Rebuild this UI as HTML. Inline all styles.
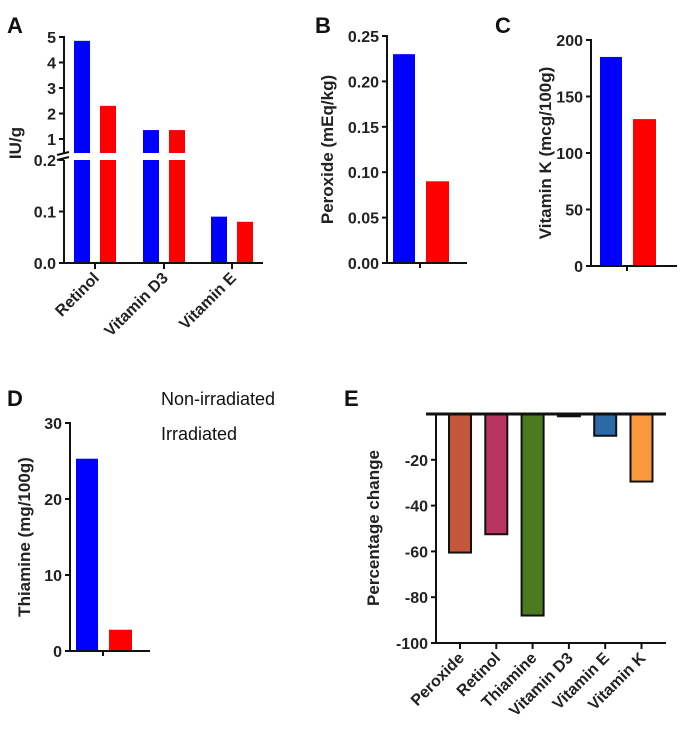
<!DOCTYPE html>
<html><head><meta charset="utf-8"><style>
body{margin:0;background:#fff}
svg{display:block;font-family:"Liberation Sans",Arial,sans-serif}
.t{font-size:16px;font-weight:bold;fill:#222}
.yl{font-size:17px;font-weight:bold;fill:#222}
.pl{font-size:22px;font-weight:bold;fill:#111}
.lg{font-size:18px;fill:#111}
</style></head><body>
<svg id="fig" width="690" height="741" xmlns="http://www.w3.org/2000/svg">
<text class="pl" x="7" y="33">A</text>
<text class="pl" x="315" y="33">B</text>
<text class="pl" x="495" y="33">C</text>
<text class="pl" x="7" y="406">D</text>
<text class="pl" x="344" y="406">E</text>
<text class="lg" x="161" y="405">Non-irradiated</text>
<text class="lg" x="161" y="440">Irradiated</text>
</svg>
<script>
const aCats=["Retinol","Vitamin D3","Vitamin E"];
const aNon=[4.85,1.35,0.09];
const aIrr=[2.3,1.35,0.08];
const aTicksHi=[1,2,3,4,5];
const aTicksLo=[0.0,0.1,0.2];
const bNon=[0.23], bIrr=[0.09];
const bTicks=[0,0.05,0.10,0.15,0.20,0.25];
const cNon=[185], cIrr=[130];
const cTicks=[0,50,100,150,200];
const dNon=[25.3], dIrr=[2.8];
const dTicks=[0,10,20,30];
const eCats=["Peroxide","Retinol","Thiamine","Vitamin D3","Vitamin E","Vitamin K"];
const eVals=[-60.5,-52.5,-88,-1,-9.5,-29.5];
const eColors=["#c4573a","#b9345f","#4b7a21","#333333","#2b6aa6","#fb983b"];
const eTicks=[-100,-80,-60,-40,-20];

const svg=document.getElementById('fig');
const NS="http://www.w3.org/2000/svg";
function mk(tag,attrs,txt){const e=document.createElementNS(NS,tag);for(const k in attrs)e.setAttribute(k,attrs[k]);if(txt!==undefined)e.textContent=txt;svg.appendChild(e);return e;}
function line(x1,y1,x2,y2,w,name){const e=mk('line',{x1,y1,x2,y2,stroke:'#111','stroke-width':w||2});

return e;}
function txt(x,y,s,cls,anchor,name,rot){const a={x,y,class:cls,'text-anchor':anchor||'end'};if(rot)a.transform=rot;const e=mk('text',a,s);

return e;}
function bar(x,w,y0,y1,fill,name,stroke){const a={x,y:Math.min(y0,y1),width:w,height:Math.abs(y1-y0),fill};if(stroke){a.stroke='#111';a['stroke-width']=2;}const e=mk('rect',a);

return e;}
function lin(d0,d1,r0,r1){return v=>r0+(v-d0)*(r1-r0)/(d1-d0);}
const BLUE="#0000ff",RED="#ff0000";

// Panel A (broken axis)
const aYhi=lin(1,5,139,37), aYlo=lin(0,0.2,263,160);
const aBreak=153;
function aY(v){return v>0.2?aYhi(v):aYlo(v);}
const aX0=64, aCenters=[95,164,232];
aCats.forEach((c,i)=>{
  const cx=aCenters[i];
  [[aNon[i],cx-21,BLUE,'bar-a-non-'+i],[aIrr[i],cx+5,RED,'bar-a-irr-'+i]].forEach(([v,x,col,n])=>{
    if(v>0.2){bar(x,16,aBreak,aY(v),col,n+'-upper');bar(x,16,263,160,col,n+'-lower');}
    else bar(x,16,263,aY(v),col,n);
  });
  line(cx,263,cx,269,2,'x-tick-a');
  txt(cx+5,279,c,'t','end','x-label-a-'+i,`rotate(-45 ${cx+5} 279)`);
});
line(aX0,36,aX0,aBreak,2,'y-axis-a-upper');
line(aX0,160,aX0,264,2,'y-axis-a-lower');
line(aX0-7,aBreak+2,aX0+5,aBreak-1,2,'axis-break');
line(aX0-7,160,aX0+5,157,2,'axis-break');
line(aX0-1,263,263,263,2,'x-axis-a');
aTicksHi.forEach(v=>{const y=aYhi(v);line(aX0-5,y,aX0,y,2,'y-tick-a');txt(aX0-8,y+6,String(v),'t','end','y-tick-label-a');});
aTicksLo.forEach(v=>{const y=aYlo(v);line(aX0-5,y,aX0,y,2,'y-tick-a');txt(aX0-8,y+6,v.toFixed(1),'t','end','y-tick-label-a');});
txt(21,143,'IU/g','yl','middle','y-axis-title-a','rotate(-90 21 143)');

// generic two-bar panel
function pair(ax,top,bot,yMax,non,irr,ticks,dec,xEnd,title,titleX,key){
  const y=lin(0,yMax,bot,top);
  const cx=(ax+xEnd)/2-7;
  bar(cx-27,22,bot,y(non[0]),BLUE,'bar-'+key+'-non-irradiated');
  bar(cx+6,23,bot,y(irr[0]),RED,'bar-'+key+'-irradiated');
  line(ax,top-1,ax,bot+1,2,'y-axis-'+key);
  line(ax-1,bot,xEnd,bot,2,'x-axis-'+key);
  line(cx,bot,cx,bot+5,2,'x-tick-'+key);
  ticks.forEach(v=>{const yy=y(v);line(ax-5,yy,ax,yy,2,'y-tick-'+key);txt(ax-8,yy+6,v.toFixed(dec),'t','end','y-tick-label-'+key);});
  const mid=(top+bot)/2;
  txt(titleX,mid,title,'yl','middle','y-axis-title-'+key,`rotate(-90 ${titleX} ${mid})`);
}
pair(387,36,263,0.25,bNon,bIrr,bTicks,2,467,'Peroxide (mEq/kg)',333,'b');
pair(591,40,266,200,cNon,cIrr,cTicks,0,677,'Vitamin K (mcg/100g)',551,'c');
pair(70,423,651,30,dNon,dIrr,dTicks,0,150,'Thiamine (mg/100g)',30,'d');

// Panel E
const eY=lin(0,-100,414,643);
const eX0=436, eStart=449, eStep=36.3;
eCats.forEach((c,i)=>{
  const x=eStart+i*eStep;
  bar(x,22,eY(0),eY(eVals[i]),eColors[i],'bar-e-'+c.toLowerCase().replace(/ /g,'-'),true);
  const cx=x+11;
  line(cx,643,cx,649,2,'x-tick-e');
  txt(cx+5,659,c,'t','end','x-label-e-'+i,`rotate(-45 ${cx+5} 659)`);
});
line(426,414,666,414,3,'zero-line-e');
line(eX0,414,eX0,644,2,'y-axis-e');
line(eX0-1,643,666,643,2,'x-axis-e');
eTicks.forEach(v=>{const y=eY(v);line(eX0-5,y,eX0,y,2,'y-tick-e');txt(eX0-8,y+6,String(v),'t','end','y-tick-label-e');});
txt(379,528,'Percentage change','yl','middle','y-axis-title-e','rotate(-90 379 528)');
</script>
</body></html>
